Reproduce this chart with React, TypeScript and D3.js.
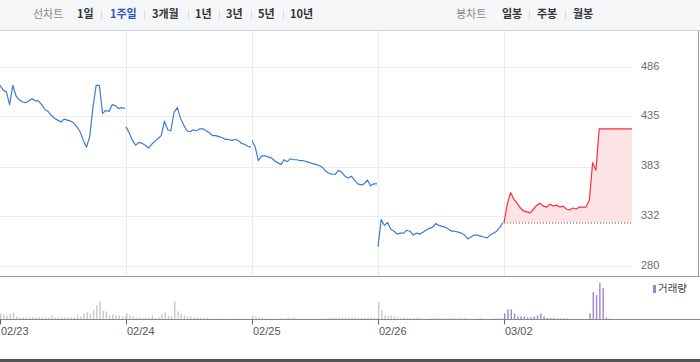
import React, { useEffect } from 'react';
import * as d3 from 'd3';

// chart data (10-minute slots, 09:00 ~ 15:30)
const days = ['02/23', '02/24', '02/25', '02/26', '03/02'];
const priceTicks = [280, 332, 383, 435, 486];
const prevClose = 325;

const price0223 = [467, 462, 460, 447, 467, 456, 452, 450, 449, 451, 453, 451, 451, 447, 442, 440, 436, 433, 431, 429, 432, 431, 430, 428, 424, 419, 410, 403, 414, 444, 467, 467, 438, 441, 440, 447, 446, 443, 444, 443];
const price0224 = [424, 418, 410, 405, 408, 407, 405, 402, 406, 409, 412, 415, 430, 421, 420, 439, 444, 433, 426, 420, 419, 421, 420, 422, 422, 420, 418, 415, 415, 414, 413, 411, 411, 410, 411, 410, 407, 406, 404, 403];
const price0225 = [410, 403, 389, 394, 394, 393, 392, 389, 387, 385, 390, 388, 391, 390, 390, 389, 389, 388, 387, 386, 385, 384, 382, 378, 376, 375, 375, 379, 377, 373, 371, 373, 369, 365, 364, 365, 369, 363, 365, 365];
const price0226 = [300, 328, 322, 325, 318, 316, 313, 314, 314, 317, 316, 312, 314, 313, 315, 317, 319, 320, 324, 322, 321, 320, 318, 316, 316, 315, 314, 312, 308, 310, 312, 312, 311, 310, 309, 312, 314, 316, 320, 325];
const price0302 = [325, 344, 356, 349, 345, 340, 337, 336, 335, 339, 343, 345, 342, 341, 344, 342, 343, 341, 342, 339, 338, 340, 339, 341, 341, 341, 348, 387, 379, 422, 422, 422, 422, 422, 422, 422, 422, 422, 422, 422];

const vol0223 = [60, 50, 40, 60, 70, 30, 20, 20, 20, 20, 20, 20, 25, 20, 20, 20, 40, 20, 20, 20, 20, 20, 20, 20, 40, 30, 60, 70, 60, 90, 140, 180, 90, 80, 40, 50, 40, 40, 30, 30];
const vol0224 = [60, 40, 30, 20, 20, 15, 20, 20, 40, 15, 20, 50, 70, 40, 30, 180, 80, 60, 40, 30, 30, 20, 20, 20, 15, 15, 10, 10, 10, 10, 10, 10, 10, 10, 10, 10, 10, 10, 10, 10];
const vol0225 = [40, 30, 20, 20, 15, 10, 10, 10, 10, 15, 10, 20, 10, 20, 10, 10, 10, 10, 10, 10, 10, 10, 10, 15, 15, 15, 20, 15, 20, 20, 20, 20, 20, 15, 15, 15, 20, 20, 15, 15];
const vol0226 = [170, 90, 40, 40, 40, 30, 20, 20, 20, 15, 15, 15, 20, 15, 10, 10, 15, 15, 15, 15, 15, 15, 15, 15, 15, 20, 15, 15, 10, 10, 10, 15, 15, 10, 10, 10, 15, 15, 15, 10];
const vol0302 = [60, 100, 100, 60, 30, 30, 30, 20, 20, 30, 40, 60, 30, 15, 15, 15, 10, 10, 10, 10, 0, 0, 0, 0, 0, 0, 60, 270, 240, 360, 310, 20, 10, 0, 0, 0, 0, 0, 0, 0];

const lineTabs = ['1일', '1주일', '3개월', '1년', '3년', '5년', '10년'];
const candleTabs = ['일봉', '주봉', '월봉'];
const activeTab = '1주일';

const prices = [price0223, price0224, price0225, price0226, price0302];
const volumes = [vol0223, vol0224, vol0225, vol0226, vol0302];

// layout
const W = 700, H = 362;
const headerH = 30;
const plotRight = 632;
const priceTop = 67, priceBottom = 266;
const panelBottom = 276.5;
const volBase = 319.5;
const font = '"Noto Sans CJK KR", "Noto Sans", sans-serif';
const numFont = '"Liberation Sans", Arial, sans-serif';

const lineTabX = [77, 110, 152, 195, 226, 258, 290];
const lineSepX = [101, 144, 188, 219, 251, 283];
const candleTabX = [502, 537, 573];
const candleSepX = [529, 565];

export default function App() {
	useEffect(() => {
		document.body.style.margin = '0';
	}, []);

	const x = d3.scaleBand<string>().domain(days).range([0, 630]).paddingInner(0).paddingOuter(0);
	const lastDay = days.length - 1;
	const slot = d3.scaleLinear().domain([0, price0223.length - 1]).range([0, x.bandwidth() - 1]);
	// today's session runs to the right edge of the plot
	const slotToday = d3.scaleLinear().domain([0, price0302.length - 1]).range([0, plotRight - (x(days[lastDay]) as number)]);
	const y = d3.scaleLinear().domain([280, 486]).range([priceBottom, priceTop]);
	const yVol = d3.scaleLinear().domain([0, 370]).range([volBase, 282]);

	const sx = (day: number, i: number) => (x(days[day]) as number) + (day === lastDay ? slotToday(i) : slot(i));

	const line = (day: number) => d3.line<number>()
		.x((_, i) => sx(day, i))
		.y(d => y(d));

	const area = d3.area<number>()
		.x((_, i) => sx(lastDay, i))
		.y0(y(prevClose))
		.y1(d => y(d));

	return (
		<svg width={W} height={H} style={{ display: 'block', fontFamily: font }}>
			{/* header */}
			<rect x={0} y={0} width={W} height={headerH} fill="#f5f6f7" />
			<line x1={0} x2={W} y1={headerH + 0.5} y2={headerH + 0.5} stroke="#d3d5d9" />
			<text x={33} y={15} dominantBaseline="middle" fontSize={11} fill="#8a8a8a">선차트</text>
			{lineTabs.map((t, i) => (
				<text key={t} x={lineTabX[i]} y={15} dominantBaseline="middle" fontSize={11} fontWeight="bold"
					fill={t === activeTab ? '#2f53b8' : '#333'}>{t}</text>
			))}
			{lineSepX.map(s => (
				<line key={s} x1={s + 0.5} x2={s + 0.5} y1={10} y2={20} stroke="#dcdcdc" />
			))}
			<text x={456} y={15} dominantBaseline="middle" fontSize={11} fill="#8a8a8a">봉차트</text>
			{candleTabs.map((t, i) => (
				<text key={t} x={candleTabX[i]} y={15} dominantBaseline="middle" fontSize={11} fontWeight="bold" fill="#333">{t}</text>
			))}
			{candleSepX.map(s => (
				<line key={s} x1={s + 0.5} x2={s + 0.5} y1={10} y2={20} stroke="#dcdcdc" />
			))}

			{/* grid */}
			{priceTicks.map(t => (
				<g key={t}>
					<line x1={0} x2={plotRight} y1={Math.round(y(t)) + 0.5} y2={Math.round(y(t)) + 0.5} stroke="#ececec" />
					<text x={641} y={y(t)} dominantBaseline="middle" fontSize={11} fontFamily={numFont} fill="#6b6b6b">{t}</text>
				</g>
			))}
			{days.slice(1).map(d => (
				<line key={d} x1={(x(d) as number) + 0.5} x2={(x(d) as number) + 0.5} y1={headerH + 1} y2={panelBottom} stroke="#ececec" />
			))}

			{/* today fill + previous close */}
			<path d={area(price0302) || ''} fill="#fde3e5" />
			<line x1={x(days[lastDay])} x2={plotRight} y1={y(prevClose) + 0.5} y2={y(prevClose) + 0.5}
				stroke="#555" strokeDasharray="1,2" />

			{/* price lines */}
			{prices.map((p, di) => (
				<path key={days[di]} d={line(di)(p) || ''} fill="none"
					stroke={di === lastDay ? '#f5323c' : '#3a7bd8'} strokeWidth={1.2} strokeLinejoin="round" />
			))}

			{/* panel borders */}
			<line x1={0} x2={W} y1={panelBottom} y2={panelBottom} stroke="#9a9a9a" />
			<line x1={698.5} x2={698.5} y1={headerH + 1} y2={panelBottom} stroke="#9a9a9a" />

			{/* volume */}
			{volumes.map((v, di) => v.map((val, i) => val > 0 && (
				<rect key={days[di] + i} x={sx(di, i)} width={1.4}
					y={yVol(val)} height={volBase - yVol(val)}
					fill={di === lastDay ? '#9a86c9' : '#c6c9cd'} />
			)))}
			<line x1={0} x2={W} y1={volBase} y2={volBase} stroke="#8a8a8a" />
			{days.map(d => (
				<g key={d}>
					<line x1={(x(d) as number) + 0.5} x2={(x(d) as number) + 0.5} y1={volBase} y2={volBase + 5} stroke="#666" />
					<text x={(x(d) as number) + 1} y={332} dominantBaseline="middle" fontSize={11} fontFamily={numFont} fill="#555">{d}</text>
				</g>
			))}
			<rect x={653} y={285} width={3} height={8} fill="#9a86c9" />
			<text x={658} y={289.5} dominantBaseline="middle" fontSize={10.5} fill="#444">거래량</text>

			<rect x={0} y={359} width={W} height={3} fill="#555" />
		</svg>
	);
}
